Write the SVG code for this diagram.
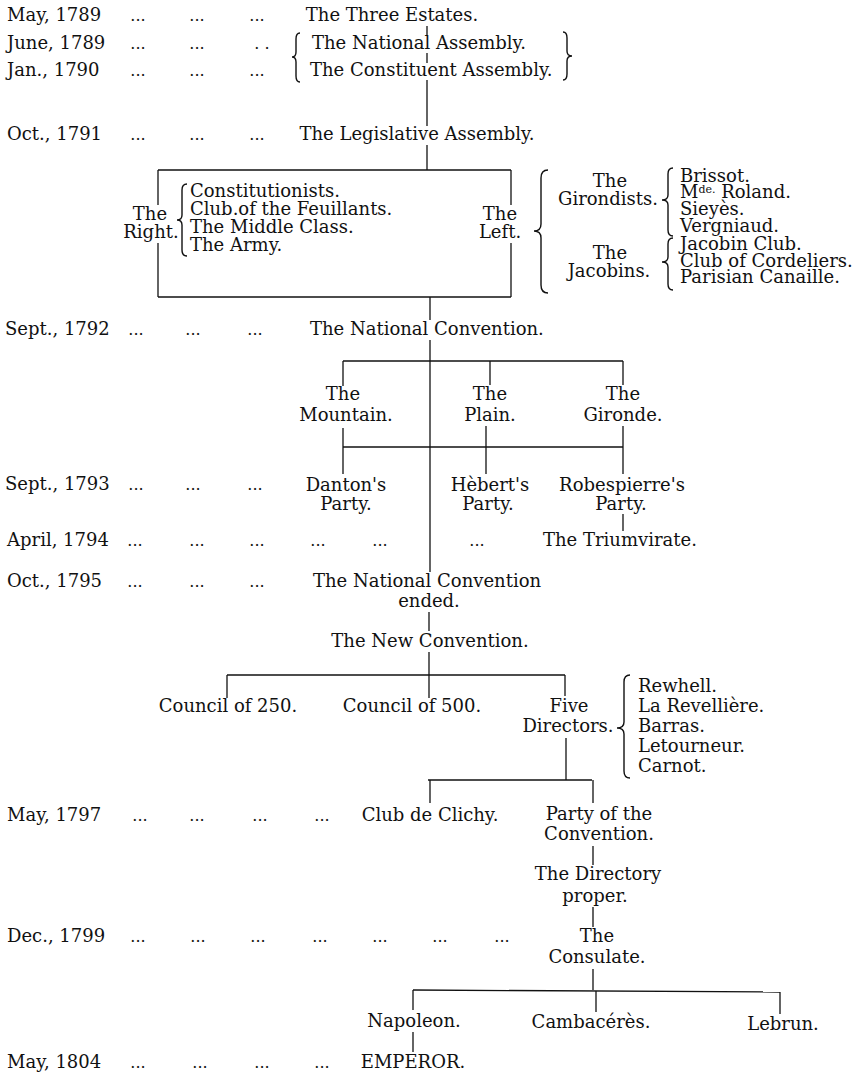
<svg xmlns="http://www.w3.org/2000/svg" width="858" height="1074" viewBox="0 0 858 1074">
<style>
text{font-family:"DejaVu Serif","Liberation Serif",serif;font-size:18px;fill:#111}
.m{text-anchor:middle}
.l{font-size:17px}
.dt text{font-size:16px}
.ln line{stroke:#111;stroke-width:1.3;fill:none}
.br{stroke:#111;stroke-width:1.4;fill:none}
</style>
<rect width="858" height="1074" fill="#fff"/>

<g id="dates">
<text x="7" y="21">May, 1789</text>
<text x="7" y="49">June, 1789</text>
<text x="7" y="76">Jan., 1790</text>
<text x="7" y="140">Oct., 1791</text>
<text x="5" y="335">Sept., 1792</text>
<text x="5" y="490">Sept., 1793</text>
<text x="7" y="546">April, 1794</text>
<text x="7" y="587">Oct., 1795</text>
<text x="7" y="821">May, 1797</text>
<text x="7" y="942">Dec., 1799</text>
<text x="7" y="1068">May, 1804</text>
</g>

<g id="dots" class="m dt">
<text x="138" y="21">...</text><text x="197" y="21">...</text><text x="257" y="21">...</text>
<text x="138" y="49">...</text><text x="197" y="49">...</text><text x="262" y="49">. .</text>
<text x="138" y="76">...</text><text x="197" y="76">...</text><text x="257" y="76">...</text>
<text x="138" y="140">...</text><text x="197" y="140">...</text><text x="257" y="140">...</text>
<text x="136" y="335">...</text><text x="193" y="335">...</text><text x="255" y="335">...</text>
<text x="136" y="490">...</text><text x="193" y="490">...</text><text x="255" y="490">...</text>
<text x="135" y="546">...</text><text x="197" y="546">...</text><text x="257" y="546">...</text><text x="318" y="546">...</text><text x="380" y="546">...</text><text x="477" y="546">...</text>
<text x="135" y="587">...</text><text x="197" y="587">...</text><text x="257" y="587">...</text>
<text x="140" y="821">...</text><text x="197" y="821">...</text><text x="260" y="821">...</text><text x="322" y="821">...</text>
<text x="138" y="942">...</text><text x="198" y="942">...</text><text x="258" y="942">...</text><text x="320" y="942">...</text><text x="380" y="942">...</text><text x="440" y="942">...</text><text x="502" y="942">...</text>
<text x="138" y="1068">...</text><text x="200" y="1068">...</text><text x="262" y="1068">...</text><text x="322" y="1068">...</text>
</g>

<g id="connectors" class="ln">
<line x1="427" y1="26" x2="427" y2="36"/>
<line x1="427" y1="53" x2="427" y2="63"/>
<line x1="427" y1="80" x2="427" y2="126"/>
<line x1="427" y1="145" x2="427" y2="170"/>
<line x1="158" y1="170" x2="511" y2="170"/>
<line x1="158" y1="297" x2="511" y2="297"/>
<line x1="158" y1="170" x2="158" y2="205"/>
<line x1="158" y1="243" x2="158" y2="297"/>
<line x1="511" y1="170" x2="511" y2="205"/>
<line x1="511" y1="243" x2="511" y2="297"/>
<line x1="430" y1="297" x2="430" y2="320"/>
<line x1="430" y1="340" x2="430" y2="572"/>
<line x1="343" y1="361" x2="623" y2="361"/>
<line x1="343" y1="361" x2="343" y2="386"/>
<line x1="490" y1="361" x2="490" y2="385"/>
<line x1="623" y1="361" x2="623" y2="385"/>
<line x1="343" y1="428" x2="343" y2="447"/>
<line x1="486" y1="426" x2="486" y2="447"/>
<line x1="623" y1="426" x2="623" y2="447"/>
<line x1="343" y1="447" x2="623" y2="447"/>
<line x1="343" y1="447" x2="343" y2="474"/>
<line x1="486" y1="447" x2="486" y2="474"/>
<line x1="623" y1="447" x2="623" y2="474"/>
<line x1="623" y1="514" x2="623" y2="531"/>
<line x1="429" y1="612" x2="429" y2="631"/>
<line x1="429" y1="652" x2="429" y2="675"/>
<line x1="227" y1="675" x2="565" y2="675"/>
<line x1="227" y1="675" x2="227" y2="698"/>
<line x1="429" y1="675" x2="429" y2="698"/>
<line x1="565" y1="675" x2="565" y2="696"/>
<line x1="566" y1="738" x2="566" y2="780"/>
<line x1="428" y1="780" x2="592" y2="780"/>
<line x1="430" y1="780" x2="430" y2="803"/>
<line x1="593" y1="780" x2="593" y2="803"/>
<line x1="593" y1="846" x2="593" y2="865"/>
<line x1="593" y1="907" x2="593" y2="927"/>
<line x1="593" y1="969" x2="593" y2="990"/>
<line x1="413" y1="990" x2="780" y2="992"/>
<line x1="413" y1="990" x2="413" y2="1010"/>
<line x1="596" y1="991" x2="596" y2="1012"/>
<line x1="780" y1="992" x2="780" y2="1014"/>
<line x1="413" y1="1032" x2="413" y2="1052"/>
</g>

<g id="braces">
<path class="br" d="M300,33 Q296,33 296,39 L296,52 Q296,57 292,57 Q296,57 296,62 L296,76 Q296,82 300,82"/>
<path class="br" d="M563,32 Q567,32 567,38 L567,51 Q567,56 572,56 Q567,56 567,61 L567,74 Q567,80 563,80"/>
<path class="br" d="M187,184 Q182,184 182,190 L182,215 Q182,220 177,220 Q182,220 182,225 L182,250 Q182,256 187,256"/>
<path class="br" d="M548,170 Q541,170 541,178 L541,224 Q541,231 534,231 Q541,231 541,238 L541,285 Q541,293 548,293"/>
<path class="br" d="M673,168 Q668,168 668,174 L668,195 Q668,200 662,200 Q668,200 668,205 L668,230 Q668,236 673,236"/>
<path class="br" d="M673,238 Q668,238 668,244 L668,257 Q668,262 662,262 Q668,262 668,267 L668,284 Q668,290 673,290"/>
<path class="br" d="M630,675 Q624,675 624,682 L624,722 Q624,728 617,728 Q624,728 624,734 L624,771 Q624,778 630,778"/>
</g>

<g id="n-three-estates"><text class="m" x="392" y="21">The Three Estates.</text></g>
<g id="n-national-assembly"><text x="312" y="49">The National Assembly.</text></g>
<g id="n-constituent-assembly"><text x="310" y="76">The Constituent Assembly.</text></g>
<g id="n-legislative-assembly"><text class="m" x="417" y="140">The Legislative Assembly.</text></g>
<g id="n-right"><text class="m" x="150" y="220">The</text><text class="m" x="151" y="238">Right.</text></g>
<g id="n-right-list" class="l">
<text x="190" y="197">Constitutionists.</text>
<text x="190" y="215">Club.of the Feuillants.</text>
<text x="190" y="233">The Middle Class.</text>
<text x="190" y="251">The Army.</text>
</g>
<g id="n-left"><text class="m" x="500" y="220">The</text><text class="m" x="500" y="238">Left.</text></g>
<g id="n-girondists"><text class="m" x="610" y="187">The</text><text class="m" x="608" y="205">Girondists.</text></g>
<g id="n-jacobins"><text class="m" x="610" y="259">The</text><text class="m" x="609" y="277">Jacobins.</text></g>
<g id="n-girondist-list" class="l">
<text x="680" y="182">Brissot.</text>
<text x="680" y="198">M<tspan font-size="11" dy="-5">de.</tspan><tspan dy="5"> Roland.</tspan></text>
<text x="680" y="215">Sieyès.</text>
<text x="680" y="232">Vergniaud.</text>
</g>
<g id="n-jacobin-list" class="l">
<text x="680" y="250">Jacobin Club.</text>
<text x="680" y="267">Club of Cordeliers.</text>
<text x="680" y="283">Parisian Canaille.</text>
</g>
<g id="n-national-convention"><text x="310" y="335">The National Convention.</text></g>
<g id="n-mountain"><text class="m" x="343" y="400">The</text><text class="m" x="346" y="421">Mountain.</text></g>
<g id="n-plain"><text class="m" x="490" y="400">The</text><text class="m" x="490" y="421">Plain.</text></g>
<g id="n-gironde"><text class="m" x="623" y="400">The</text><text class="m" x="623" y="421">Gironde.</text></g>
<g id="n-danton"><text class="m" x="346" y="491">Danton's</text><text class="m" x="346" y="510">Party.</text></g>
<g id="n-hebert"><text class="m" x="490" y="491">Hèbert's</text><text class="m" x="488" y="510">Party.</text></g>
<g id="n-robespierre"><text class="m" x="622" y="491">Robespierre's</text><text class="m" x="621" y="510">Party.</text></g>
<g id="n-triumvirate"><text x="543" y="546">The Triumvirate.</text></g>
<g id="n-convention-ended"><text x="313" y="587">The National Convention</text><text class="m" x="429" y="607">ended.</text></g>
<g id="n-new-convention"><text class="m" x="430" y="647">The New Convention.</text></g>
<g id="n-council-250"><text class="m" x="228" y="712">Council of 250.</text></g>
<g id="n-council-500"><text class="m" x="412" y="712">Council of 500.</text></g>
<g id="n-five-directors"><text class="m" x="569" y="712">Five</text><text class="m" x="568" y="732">Directors.</text></g>
<g id="n-director-list" class="l">
<text x="638" y="692">Rewhell.</text>
<text x="638" y="712">La Revellière.</text>
<text x="638" y="732">Barras.</text>
<text x="638" y="752">Letourneur.</text>
<text x="638" y="772">Carnot.</text>
</g>
<g id="n-clichy"><text class="m" x="430" y="821">Club de Clichy.</text></g>
<g id="n-party-convention"><text class="m" x="599" y="820">Party of the</text><text class="m" x="599" y="840">Convention.</text></g>
<g id="n-directory"><text class="m" x="598" y="880">The Directory</text><text class="m" x="595" y="902">proper.</text></g>
<g id="n-consulate"><text class="m" x="597" y="942">The</text><text class="m" x="597" y="963">Consulate.</text></g>
<g id="n-napoleon"><text class="m" x="414" y="1027">Napoleon.</text></g>
<g id="n-cambaceres"><text class="m" x="591" y="1028">Cambacérès.</text></g>
<g id="n-lebrun"><text class="m" x="783" y="1030">Lebrun.</text></g>
<g id="n-emperor"><text class="m" x="413" y="1068">EMPEROR.</text></g>
</svg>
